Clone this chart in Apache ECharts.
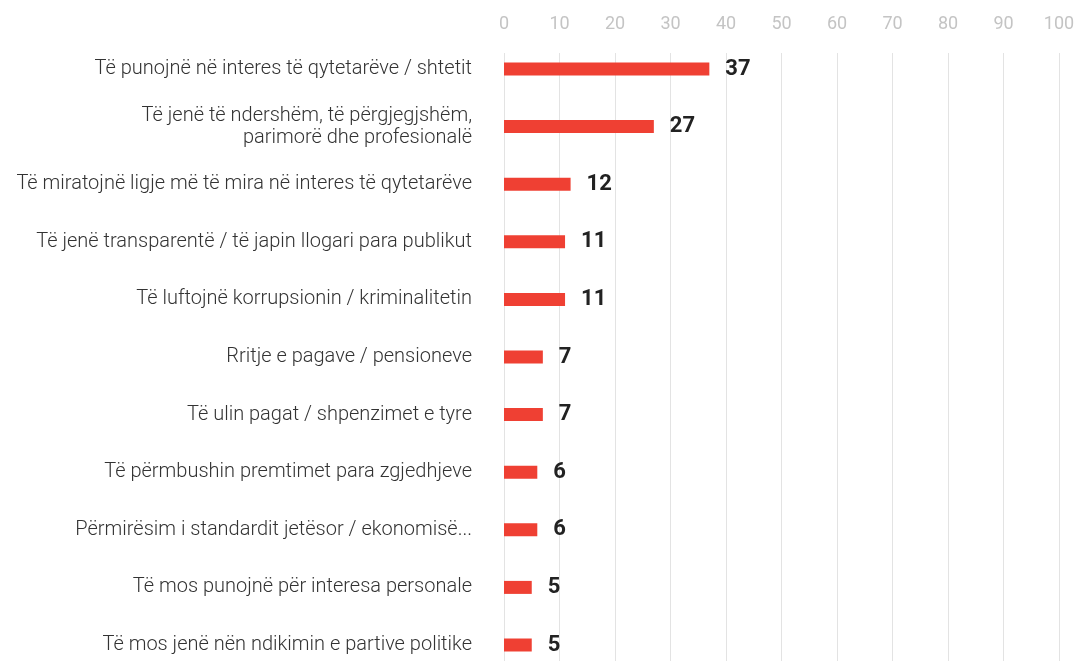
<!DOCTYPE html>
<html>
<head>
<meta charset="utf-8">
<script src="https://cdn.jsdelivr.net/npm/echarts@6/dist/echarts.min.js"></script>
<style>
  html, body { margin: 0; padding: 0; background: #fff; }
  #chart { width: 1078px; height: 661px; }
</style>
</head>
<body>
<div id="chart"></div>
<script>
// Answers, listed top to bottom
const categories = [
  'Të punojnë në interes të qytetarëve / shtetit',
  'Të jenë të ndershëm, të përgjegjshëm,\nparimorë dhe profesionalë',
  'Të miratojnë ligje më të mira në interes të qytetarëve',
  'Të jenë transparentë / të japin llogari para publikut',
  'Të luftojnë korrupsionin / kriminalitetin',
  'Rritje e pagave / pensioneve',
  'Të ulin pagat / shpenzimet e tyre',
  'Të përmbushin premtimet para zgjedhjeve',
  'Përmirësim i standardit jetësor / ekonomisë...',
  'Të mos punojnë për interesa personale',
  'Të mos jenë nën ndikimin e partive politike'
];
const values = [37, 27, 12, 11, 11, 7, 7, 6, 6, 5, 5];
const axisMin = 0;
const axisMax = 100;
const axisStep = 10;

const chart = echarts.init(document.getElementById('chart'), null, { renderer: 'canvas' });

chart.setOption({
  animation: false,
  backgroundColor: '#ffffff',
  textStyle: { fontFamily: 'Roboto' },
  grid: [
    // bars: first and last category sit on the grid edges
    { left: 504, right: 19, top: 69, bottom: 16, containLabel: false },
    // scale with vertical guide lines
    { left: 504, right: 19, top: 53, bottom: 0, containLabel: false }
  ],
  xAxis: [
    {
      gridIndex: 0, type: 'value', min: axisMin, max: axisMax, interval: axisStep,
      show: false
    },
    {
      gridIndex: 1, type: 'value', min: axisMin, max: axisMax, interval: axisStep,
      position: 'top',
      axisLine: { show: false },
      axisTick: { show: false },
      axisLabel: { color: '#c4c4c4', fontSize: 18, fontFamily: 'Roboto', margin: 20 },
      splitLine: { show: true, lineStyle: { color: '#e3e3e3', width: 1 } }
    }
  ],
  yAxis: [
    {
      gridIndex: 0, type: 'category', data: categories, inverse: true,
      boundaryGap: false,
      axisLine: { show: false },
      axisTick: { show: false },
      axisLabel: {
        color: '#333333', fontSize: 20, fontFamily: 'Roboto', fontWeight: 300,
        margin: 32, align: 'right', lineHeight: 22
      }
    },
    {
      gridIndex: 1, type: 'category', data: categories, show: false
    }
  ],
  series: [{
    type: 'bar',
    xAxisIndex: 0,
    yAxisIndex: 0,
    data: values,
    barWidth: 13,
    itemStyle: { color: '#ef4033' },
    label: {
      show: true,
      position: 'right',
      distance: 16,
      color: '#222222',
      fontSize: 22,
      fontWeight: 'bold',
      fontFamily: 'Roboto'
    }
  }]
});
</script>
</body>
</html>
